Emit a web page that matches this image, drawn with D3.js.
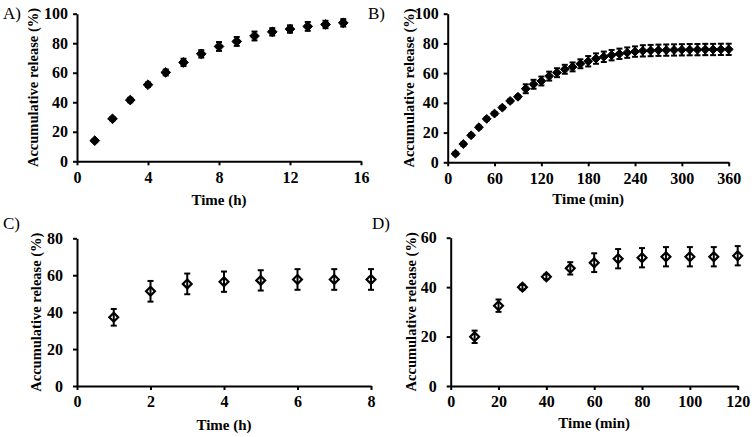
<!DOCTYPE html>
<html><head><meta charset="utf-8">
<script src="https://cdn.jsdelivr.net/npm/d3@7"></script>
<style>
body{margin:0;background:#fff;}
svg{display:block;}
text{font-family:"Liberation Serif","Times New Roman",serif;}
</style></head>
<body>
<svg id="chart" width="752" height="437"></svg>
<script>
// Panel A: time (h)
const timeA = [1,2,3,4,5,6,7,8,9,10,11,12,13,14,15];
const releaseA = [14,28.8,41.5,51.9,60.2,67,72.8,77.8,81.2,84.9,87.7,89.6,91.4,92.7,93.8];
const errA = [1,1,1.5,1.5,2,2.5,2.5,3,3,3,2.5,2.5,3,2.5,2.5];
const xTicksA = [0,4,8,12,16];
const yTicksA = [0,20,40,60,80,100];

// Panel B: time (min)
const timeB = [10,20,30,40,50,60,70,80,90,100,110,120,130,140,150,160,170,180,190,200,210,220,230,240,250,260,270,280,290,300,310,320,330,340,350,360];
const releaseB = [5.8,12.3,18.2,23.6,29.2,32.8,36.8,41.3,44.1,49.5,52.5,54.7,58,60.3,62.6,64.2,66.3,68,69.8,71,72.1,73,73.8,74.5,75,75.2,75.4,75.5,75.6,75.7,75.8,75.8,75.9,75.9,76,76];
const errB = [1,1,1,1,1,1,1,1,1,3,3,3,3,3,3,3,3,3.5,3.5,3.5,3.5,3.5,3.5,3.5,3.8,3.8,3.8,3.8,3.8,3.8,3.8,3.8,3.8,3.8,3.8,3.8];
const xTicksB = [0,60,120,180,240,300,360];
const yTicksB = [0,20,40,60,80,100];

// Panel C: time (h)
const timeC = [1,2,3,4,5,6,7,8];
const releaseC = [37.2,51.3,55.3,56.5,57.2,57.7,57.7,57.7];
const errC = [4.5,5.6,5.6,5.5,5.5,5.6,5.6,5.6];
const xTicksC = [0,2,4,6,8];
const yTicksC = [0,20,40,60,80];

// Panel D: time (min)
const timeD = [10,20,30,40,50,60,70,80,90,100,110,120];
const releaseD = [19.9,32.5,40,44.2,47.6,49.9,51.5,51.9,52.3,52.3,52.3,52.7];
const errD = [2.5,2.5,1,1,2.5,3.8,3.9,3.9,3.9,3.9,3.9,3.9];
const xTicksD = [0,20,40,60,80,100,120];
const yTicksD = [0,20,40,60];

const svg = d3.select("#chart");
const FONT = '"Liberation Serif","Times New Roman",serif';

function panel(cfg){
  const g = svg.append("g");
  const x = d3.scaleLinear().domain([cfg.xTicks[0], cfg.xTicks[cfg.xTicks.length-1]]).range([cfg.left, cfg.right]);
  const y = d3.scaleLinear().domain([cfg.yTicks[0], cfg.yTicks[cfg.yTicks.length-1]]).range([cfg.bottom, cfg.top]);

  const xa = g.append("g").attr("transform", `translate(0,${cfg.bottom})`)
    .call(d3.axisBottom(x).tickValues(cfg.xTicks).tickSize(4).tickSizeOuter(0).tickPadding(6));
  const ya = g.append("g").attr("transform", `translate(${cfg.left},0)`)
    .call(d3.axisLeft(y).tickValues(cfg.yTicks).tickSize(4).tickSizeOuter(0).tickPadding(cfg.ypad));
  [xa, ya].forEach(a => {
    a.select(".domain").attr("stroke", "#000").attr("stroke-width", 2);
    a.selectAll(".tick line").attr("stroke", "#000").attr("stroke-width", 2);
    a.selectAll(".tick text").attr("fill", "#000").style("font-size", "16px").style("font-weight", "bold")
      .style("font-family", FONT);
  });

  const sym = d3.symbol().type(d3.symbolDiamond2).size(cfg.msize);
  g.append("g").selectAll("path").data(cfg.t).join("path")
    .attr("transform", (t, i) => `translate(${x(t)},${y(cfg.v[i])})`)
    .attr("d", sym)
    .attr("fill", cfg.open ? "#fff" : "#000")
    .attr("stroke", "#000")
    .attr("stroke-width", cfg.open ? 2.2 : 1);

  // error bars
  const cap = 3;
  const eb = g.append("g").attr("stroke", "#000").attr("stroke-width", 2);
  cfg.t.forEach((t, i) => {
    const cx = x(t), y1 = y(cfg.v[i] + cfg.e[i]), y2 = y(cfg.v[i] - cfg.e[i]);
    eb.append("line").attr("x1", cx).attr("x2", cx).attr("y1", y1).attr("y2", y2);
    eb.append("line").attr("x1", cx - cap).attr("x2", cx + cap).attr("y1", y1).attr("y2", y1);
    eb.append("line").attr("x1", cx - cap).attr("x2", cx + cap).attr("y1", y2).attr("y2", y2);
  });

  // axis titles
  g.append("text").attr("x", (cfg.left + cfg.right) / 2).attr("y", cfg.xTitleY)
    .attr("text-anchor", "middle").style("font-size", "15px").style("font-weight", "bold").text(cfg.xTitle);
  g.append("text").attr("transform", `translate(${cfg.yTitleX},${(cfg.top + cfg.bottom) / 2}) rotate(-90)`)
    .attr("text-anchor", "middle").attr("dy", "0.35em").style("font-size", "14.5px").style("font-weight", "bold")
    .text("Accumulative release (%)");
  // panel label
  g.append("text").attr("x", cfg.labX).attr("y", cfg.labY).style("font-size", "17px").text(cfg.label);
}

panel({label:"A)", labX:3, labY:19, t:timeA, v:releaseA, e:errA, xTicks:xTicksA, yTicks:yTicksA,
  left:77, right:361, top:13.7, bottom:161.3, ypad:5, xTitle:"Time (h)", xTitleY:205, yTitleX:33, msize:60, open:false});
panel({label:"B)", labX:368, labY:19, t:timeB, v:releaseB, e:errB, xTicks:xTicksB, yTicks:yTicksB,
  left:447.7, right:728.7, top:13.7, bottom:162.3, ypad:5, xTitle:"Time (min)", xTitleY:204, yTitleX:409, msize:50, open:false});
panel({label:"C)", labX:3, labY:229, t:timeC, v:releaseC, e:errC, xTicks:xTicksC, yTicks:yTicksC,
  left:77, right:371, top:238.3, bottom:386, ypad:10, xTitle:"Time (h)", xTitleY:430, yTitleX:36, msize:50, open:true});
panel({label:"D)", labX:372, labY:229, t:timeD, v:releaseD, e:errD, xTicks:xTicksD, yTicks:yTicksD,
  left:450.7, right:737.7, top:237.7, bottom:386, ypad:10, xTitle:"Time (min)", xTitleY:428, yTitleX:411, msize:50, open:true});
</script>
</body></html>
